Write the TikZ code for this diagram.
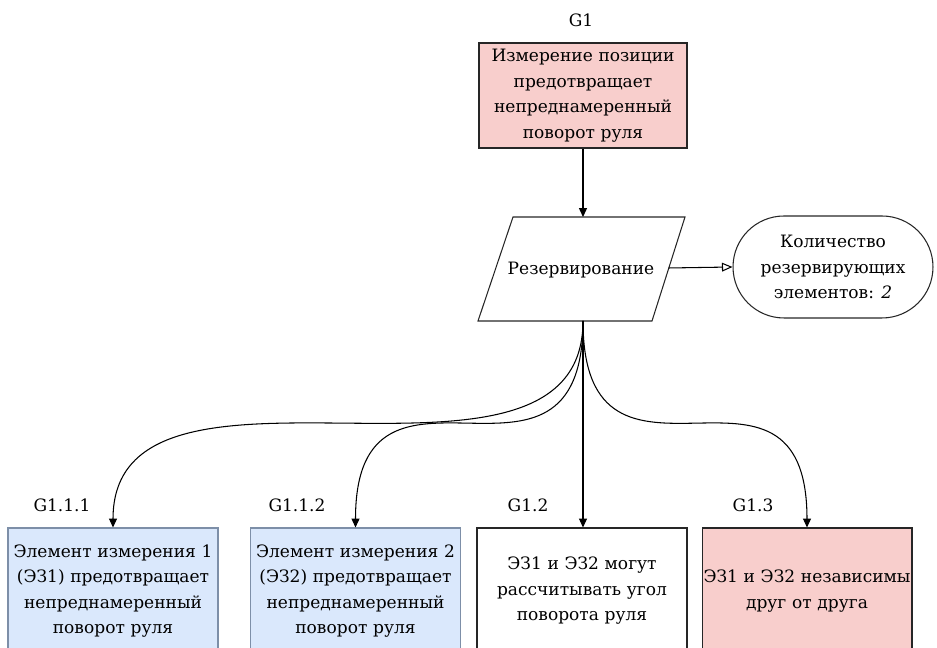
\documentclass[tikz,border=0pt]{standalone}
\usepackage{fontspec}
\setmainfont{DejaVu Serif}
\usepackage{tikz}
\usetikzlibrary{calc,arrows.meta}
\usetikzlibrary{positioning}

\definecolor{goalred}{HTML}{F8CECC}
\definecolor{goalblue}{HTML}{DAE8FC}
\definecolor{edgeblue}{HTML}{7D8FA8}

\begin{document}
\begin{tikzpicture}[x=0.02cm, y=0.02cm, line width=0.6pt,
		font=\fontsize{9.7}{14.5}\selectfont,
		goal/.style={draw=black!85, align=center, inner sep=2pt},
		topgoal/.style={goal, fill=goalred, text width=4.16cm-4pt, minimum height=2.1cm},
		leafgoal/.style={goal, text width=4.2cm-4pt, minimum height=2.52cm},
		glabel/.style={inner sep=1pt},
		arr/.style={-{Triangle[length=5pt,width=4.5pt]}},
		openarr/.style={-{Triangle[open,length=6pt,width=5pt]}}]
						\useasboundingbox (0,0) rectangle (937,648);
						\clip (0,0) rectangle (937,648);
						% top goal
						\node[topgoal] (g1) at (583,552.5) {Измерение позиции\\
								предотвращает\\ непреднамеренный\\ поворот руля};
						\node[glabel] (lg1) at (581,628) {G1};
						% strategy
						\draw[black!85] (513,431) -- (685,431) -- (652,327) -- (478,327) -- cycle;
						\node (res) at (581,378) {Резервирование};
						\coordinate (resTop) at (583,431);
						\coordinate (resBot) at (583,327);
						\coordinate (resR) at (668.5,380);
						% context
						\node[goal, rounded corners=1.02cm, minimum width=4cm,
								minimum height=2.04cm] (cnt) at (833,381)
								{Количество\\ резервирующих\\ элементов: \textit{2}};
						% leaves
						\node[leafgoal, fill=goalblue, draw=edgeblue] (g111) at (113,57)
								{Элемент измерения 1\\ (ЭЗ1) предотвращает\\
								непреднамеренный\\ поворот руля};
						\node[leafgoal, fill=goalblue, draw=edgeblue] (g112) at (355.5,57)
								{Элемент измерения 2\\ (ЭЗ2) предотвращает\\
								непреднамеренный\\ поворот руля};
						\node[leafgoal, fill=white] (g12) at (582,57)
								{ЭЗ1 и ЭЗ2 могут\\ рассчитывать угол\\ поворота руля};
						\node[leafgoal, fill=goalred] (g13) at (807,57)
								{\makebox[\linewidth]{ЭЗ1 и ЭЗ2 независимы}\\ друг от друга};
						\node[glabel] (lg111) at (62,143) {G1.1.1};
						\node[glabel] (lg112) at (297,143) {G1.1.2};
						\node[glabel] (lg12) at (528,143) {G1.2};
						\node[glabel] (lg13) at (753,143) {G1.3};
						% connectors
						\draw[arr] (g1.south) -- (resTop);
						\draw[openarr] (resR) -- (cnt.west);
						\draw[arr] (resBot) .. controls (resBot |- g111.north) and
								(g111.north |- resBot) .. (g111.north);
						\draw[arr] (resBot) .. controls (resBot |- g112.north) and
								(g112.north |- resBot) .. (g112.north);
						\draw[arr] (resBot) -- (resBot |- g12.north);
						\draw[arr] (resBot) .. controls (resBot |- g13.north) and
								(g13.north |- resBot) .. (g13.north);
				\end{tikzpicture}
\end{document}
